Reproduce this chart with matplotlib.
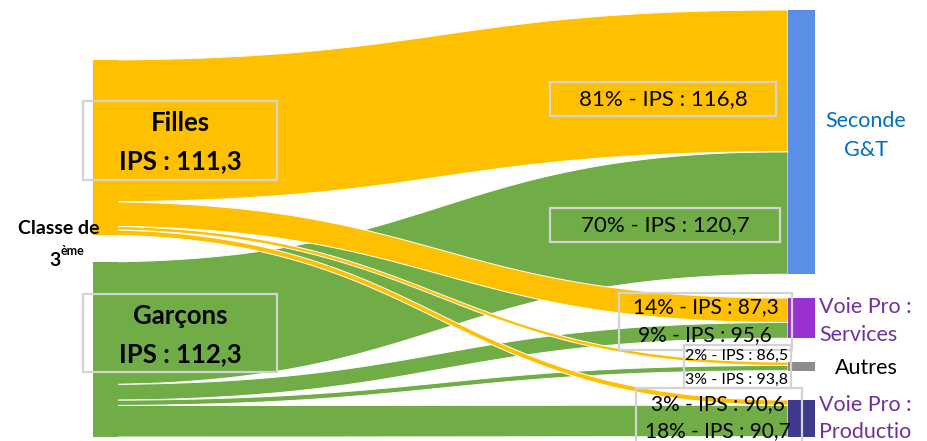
import numpy as np
import matplotlib.pyplot as plt
from matplotlib.patches import Rectangle

plt.rcParams['font.family'] = ['Lato', 'DejaVu Sans']

# donnees
sources = ['Filles', 'Garçons']
source_ips = ['111,3', '112,3']
targets = ['Seconde G&T', 'Voie Pro : Services', 'Autres', 'Voie Pro : Production']
filles_pct = [81, 14, 2, 3]
garcons_pct = [70, 9, 3, 18]
filles_ips = ['116,8', '87,3', '86,5', '90,6']
garcons_ips = ['120,7', '95,6', '93,8', '90,7']

jaune = '#FFC000'
vert = '#70AD47'
couleurs_cible = ['#5B8FE6', '#9B30D0', '#8C8C8C', '#3F3A8C']

# mise en page (pixels)
px = 1.75           # pixels par %
x_gauche, x_droite = 93, 788
haut_source = [60, 262]
haut_cible = [10, 298, 362, 400]

fig = plt.figure(figsize=(9.27, 4.41), dpi=100)
ax = fig.add_axes([0, 0, 1, 1])
ax.set_xlim(0, 927)
ax.set_ylim(441, 0)
ax.axis('off')


def courbe(y0, y1, n=120):
    t = np.linspace(0, 1, n)
    xm = (x_gauche + x_droite) / 2
    x = (1-t)**3*x_gauche + 3*(1-t)**2*t*xm + 3*(1-t)*t**2*xm + t**3*x_droite
    y = (1-t)**3*y0 + 3*(1-t)**2*t*y0 + 3*(1-t)*t**2*y1 + t**3*y1
    return x, y


# position de chaque flux a gauche et a droite
series = [filles_pct, garcons_pct]
pos_cible = list(haut_cible)
flux = []
for i, pcts in enumerate(series):
    y = haut_source[i]
    for j, p in enumerate(pcts):
        h = p * px
        flux.append((i, y, pos_cible[j], h))
        y += h
        pos_cible[j] += h

# garcons dessous, filles dessus
for i in [1, 0]:
    col = jaune if i == 0 else vert
    for (k, ys, yt, h) in flux:
        if k != i:
            continue
        xa, ya = courbe(ys, yt)
        xb, yb = courbe(ys + h, yt + h)
        ax.fill(np.concatenate([xa, xb[::-1]]), np.concatenate([ya, yb[::-1]]),
                color=col, ec='white', lw=0.7, zorder=2 + (1 - i))
    ax.add_patch(Rectangle((x_gauche, haut_source[i]), 25, sum(series[i]) * px,
                           color=col, lw=0, zorder=4))

# barres cibles
for j in range(len(targets)):
    h = (filles_pct[j] + garcons_pct[j]) * px
    ax.add_patch(Rectangle((x_droite, haut_cible[j]), 27, h,
                           color=couleurs_cible[j], lw=0, zorder=5))


def boite(x, y, w, h):
    ax.add_patch(Rectangle((x, y), w, h, fill=False, ec='#D3D3D3', lw=1.6, zorder=6))


# sources
boite(83, 101, 194, 79)
boite(83, 294, 194, 78)
for i, (nom, ips) in enumerate(zip(sources, source_ips)):
    yb = [101, 294][i]
    ax.text(180, yb + 22, nom, ha='center', va='center', fontsize=18.5,
            fontweight='bold', zorder=7)
    ax.text(180, yb + 60, 'IPS : ' + ips, ha='center', va='center', fontsize=18.5,
            fontweight='bold', zorder=7)

ax.text(59, 229, 'Classe de', ha='center', va='center', fontsize=14,
        fontweight='bold', zorder=8)
ax.text(61, 260, '3', ha='right', va='center', fontsize=14, fontweight='bold', zorder=8)
ax.text(61, 251, 'ème', ha='left', va='center', fontsize=9, fontweight='bold', zorder=8)

# etiquettes des flux
def etiq(p, ips):
    return f'{p}% - IPS : {ips}'

boite(550, 82, 226, 34)
ax.text(663, 99, etiq(filles_pct[0], filles_ips[0]), ha='center', va='center',
        fontsize=16, zorder=7)
boite(550, 208, 230, 34)
ax.text(665, 225, etiq(garcons_pct[0], garcons_ips[0]), ha='center', va='center',
        fontsize=16, zorder=7)

boite(619, 293, 173, 57)
ax.text(706, 307, etiq(filles_pct[1], filles_ips[1]), ha='center', va='center',
        fontsize=15, zorder=7)
ax.text(705, 335, etiq(garcons_pct[1], garcons_ips[1]), ha='center', va='center',
        fontsize=15, zorder=7)

boite(684, 345, 107, 43)
ax.text(737, 356, etiq(filles_pct[2], filles_ips[2]), ha='center', va='center',
        fontsize=11.5, zorder=7)
ax.text(737, 380, etiq(garcons_pct[2], garcons_ips[2]), ha='center', va='center',
        fontsize=11.5, zorder=7)

boite(636, 388, 166, 60)
ax.text(718, 404, etiq(filles_pct[3], filles_ips[3]), ha='center', va='center',
        fontsize=15, zorder=7)
ax.text(718, 431, etiq(garcons_pct[3], garcons_ips[3]), ha='center', va='center',
        fontsize=15, zorder=7)

# noms des cibles
ax.text(866, 121, 'Seconde', ha='center', va='center', fontsize=15.5, color='#0070C0')
ax.text(866, 150, 'G&T', ha='center', va='center', fontsize=15.5, color='#0070C0')
ax.text(819, 307, 'Voie Pro :', ha='left', va='center', fontsize=15.5, color='#7030A0')
ax.text(819, 335, 'Services', ha='left', va='center', fontsize=15.5, color='#7030A0')
ax.text(866, 368, 'Autres', ha='center', va='center', fontsize=15.5, color='black')
ax.text(819, 405, 'Voie Pro :', ha='left', va='center', fontsize=15.5, color='#7030A0')
ax.text(819, 432, 'Productio', ha='left', va='center', fontsize=15.5, color='#7030A0')

fig.savefig('out.png', dpi=100)
